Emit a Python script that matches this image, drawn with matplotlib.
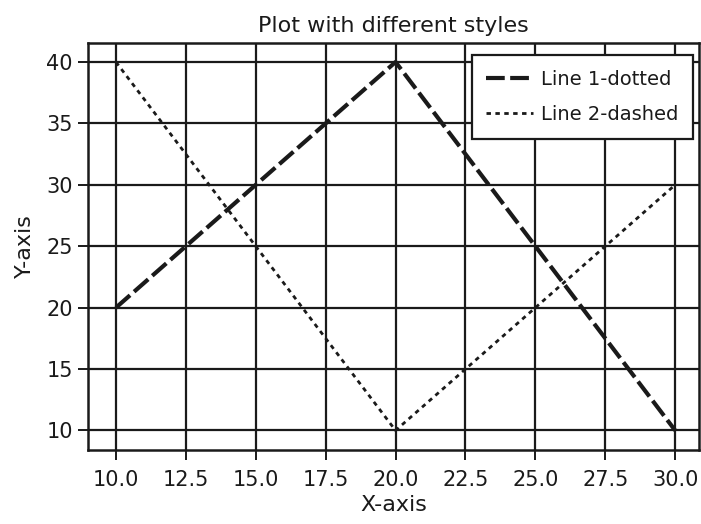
import matplotlib.pyplot as plt

x = [10, 20, 30]
linea1 = [20, 40, 10]
linea2 = [40, 10, 30]
xticks = [10.0, 12.5, 15.0, 17.5, 20.0, 22.5, 25.0, 27.5, 30.0]
yticks = [10, 15, 20, 25, 30, 35, 40]

plt.rcParams['font.family'] = ['DejaVu Sans']

tinta = '#1a1a1a'

fig = plt.figure(figsize=(7.01, 5.24), dpi=100)
ax = fig.add_axes([0.1255, 0.141, 0.8716, 0.777])

ax.plot(x, linea1, color=tinta, linestyle=(0, (4.5, 1.3)), linewidth=3, label='Line 1-dotted')
ax.plot(x, linea2, color=tinta, linestyle=(0, (1.6, 1.6)), linewidth=2, label='Line 2-dashed')

ax.set_xticks(xticks)
ax.set_xticklabels([f"{t:.1f}" for t in xticks])
ax.set_yticks(yticks)
ax.set_xlim(9, 30.85)
ax.set_ylim(8.4, 41.55)
ax.tick_params(labelsize=15, length=7, width=1.4, colors=tinta)
ax.tick_params(axis='x', pad=7)
ax.tick_params(axis='y', pad=4)
ax.grid(True, color=tinta, linewidth=1.6)
for s in ax.spines.values():
    s.set_linewidth(1.8)
    s.set_color(tinta)

ax.set_xlabel("X-axis", fontsize=16, labelpad=4, color=tinta)
ax.set_ylabel("Y-axis", fontsize=16, labelpad=8, color=tinta)
ax.set_title("Plot with different styles", fontsize=16, pad=8, color=tinta)

leg = ax.legend(loc='upper right', bbox_to_anchor=(0.99, 0.97), borderaxespad=0,
                fontsize=14, fancybox=False, framealpha=1, edgecolor=tinta,
                handlelength=2.4, handletextpad=0.4, borderpad=0.75, labelspacing=0.85)
leg.get_frame().set_linewidth(1.6)
for t in leg.get_texts():
    t.set_color(tinta)

fig.savefig("out.png", dpi=100)
